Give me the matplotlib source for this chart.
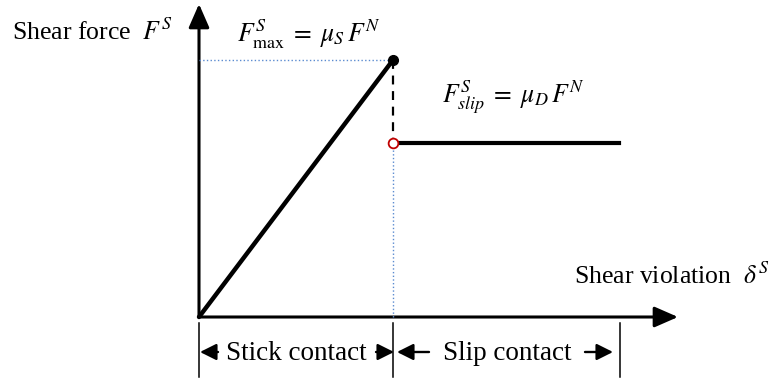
#!/usr/bin/env python3
"""Stick-slip friction law: shear force vs shear violation (schematic)."""

import matplotlib.pyplot as plt
from matplotlib.patches import FancyArrowPatch

# Schematic values (normalised units)
delta_stick = [0.0, 1.0]      # shear violation over the stick branch
force_stick = [0.0, 1.0]      # shear force rising to F_max
f_max = 1.0                   # static limit  mu_S * F^N
f_slip = 0.677                # dynamic level mu_D * F^N
delta_slip = [1.0, 2.165]     # slip branch extent
region_edges = [0.0, 1.0, 2.17]
region_labels = ['Stick contact', 'Slip contact']

W, H = 777, 379
X0, Y0 = 199, 317             # origin in pixels
SX, SY = 194, 257             # pixels per unit

plt.rcParams['font.family'] = ['Liberation Serif', 'DejaVu Serif']
plt.rcParams['mathtext.fontset'] = 'stix'

fig = plt.figure(figsize=(W / 100, H / 100), dpi=100)
ax = fig.add_axes([0, 0, 1, 1])
ax.set_xlim(-X0 / SX, (W - X0) / SX)
ax.set_ylim((Y0 - H) / SY, Y0 / SY)
ax.axis('off')


def px(x, y):
    """Pixel position -> data coords (used for annotations only)."""
    return (x - X0) / SX, (Y0 - y) / SY


# axes with arrow heads
x_end = px(678, 0)[0]
y_end = px(0, 4)[1]
for tip in [(x_end, 0), (0, y_end)]:
    ax.add_patch(FancyArrowPatch((0, 0), tip, arrowstyle='-|>,head_length=0.8,head_width=0.35',
                                 mutation_scale=18, lw=2.2, color='black',
                                 shrinkA=0, shrinkB=0))

# guide lines
ax.plot([0, delta_stick[1]], [f_max, f_max], ls=':', lw=1, color='#5b8bd0')
ax.plot([delta_slip[0], delta_slip[0]], [0, f_slip], ls=':', lw=1, color='#5b8bd0')
ax.plot([delta_slip[0], delta_slip[0]], [f_max, f_slip], ls=(0, (4, 3)), lw=1.6, color='black')

# friction law
ax.plot(delta_stick, force_stick, lw=3.2, color='black', solid_capstyle='round')
ax.plot(delta_slip, [f_slip, f_slip], lw=3.0, color='black')
ax.plot(delta_stick[1], force_stick[1], 'o', ms=7, color='black')
ax.plot(delta_slip[0], f_slip, 'o', ms=7, mfc='white', mec='#c00000', mew=1.3)

# labels
fs = 18.5
ax.text(*px(12, 40), r'Shear force  $F^S$', fontsize=fs, va='baseline', ha='left')
ax.text(*px(574, 284), r'Shear violation  $\delta^S$', fontsize=fs, va='baseline', ha='left')
ax.text(*px(237, 42), r'$F^S_{\max}\;=\;\mu_S\, F^N$', fontsize=fs, va='baseline', ha='left')
ax.text(*px(442, 103), r'$F^S_{slip}\;=\;\mu_D\, F^N$', fontsize=fs, va='baseline', ha='left')

# region brackets below the axis
y_top, y_bot = px(0, 323)[1], px(0, 377)[1]
for e in region_edges:
    ax.plot([e, e], [y_top, y_bot], lw=1.1, color='black')

arrows = [(218, 200), (376, 394), (429, 397), (585, 613)]
for a, b in arrows:
    ax.add_patch(FancyArrowPatch(px(a, 352), px(b, 352),
                                 arrowstyle='-|>,head_length=0.9,head_width=0.45',
                                 mutation_scale=11, lw=1.7, color='black',
                                 shrinkA=0, shrinkB=0))
ax.text(*px(226, 360), region_labels[0], fontsize=19.5, va='baseline', ha='left')
ax.text(*px(443, 360), region_labels[1], fontsize=19.5, va='baseline', ha='left')

fig.savefig('out.png', dpi=100)
